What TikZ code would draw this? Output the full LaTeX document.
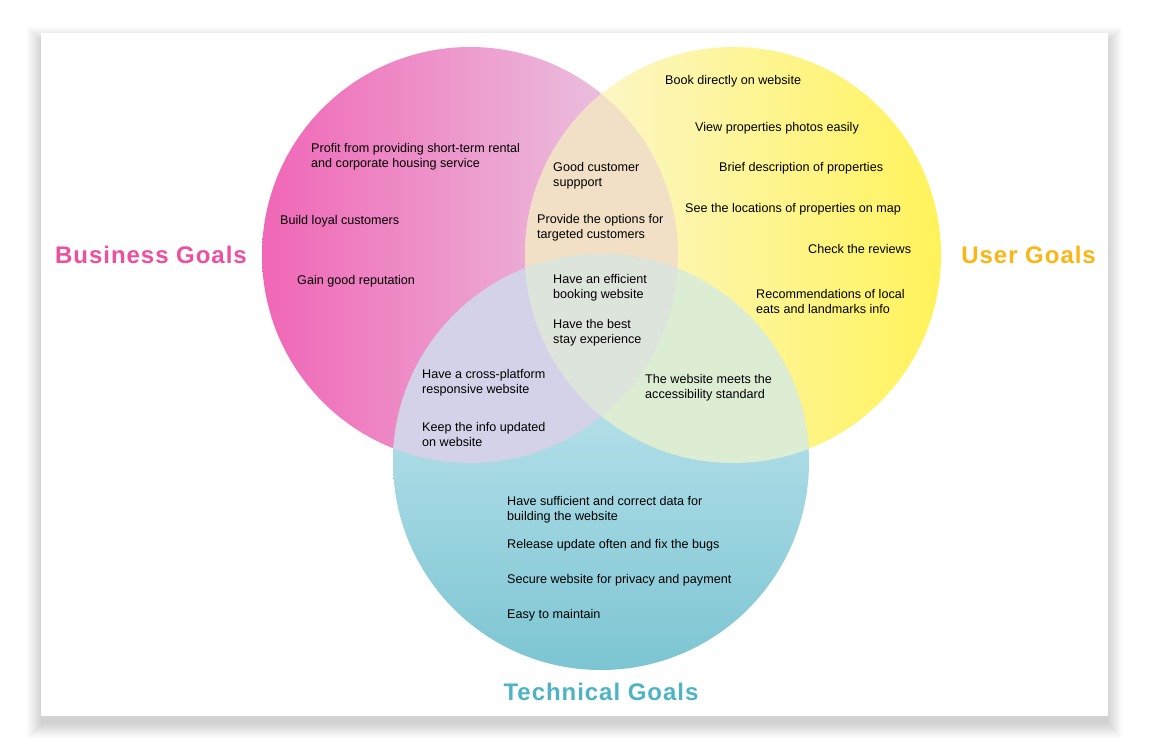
\documentclass[tikz,border=0pt]{standalone}
\usepackage{fontspec}
\setmainfont{Liberation Sans}
\newfontfamily\titlefont[LetterSpace=4]{Liberation Sans}
\usetikzlibrary{positioning}

\definecolor{pinkA}{HTML}{F066B6}
\definecolor{pinkB}{HTML}{EAD2E6}
\definecolor{yellowA}{HTML}{FCF7DC}
\definecolor{yellowB}{HTML}{FFF35A}
\definecolor{cyanA}{HTML}{D3EFF7}
\definecolor{cyanB}{HTML}{7CC5D2}
\definecolor{pinkyellow}{HTML}{F1E0C5}
\definecolor{pinkcyan}{HTML}{D4D2E8}
\definecolor{yellowcyan}{HTML}{DDEDD4}
\definecolor{allthree}{HTML}{DCE4DB}
\definecolor{businessc}{HTML}{EE4F9E}
\definecolor{userc}{HTML}{FDB515}
\definecolor{technicalc}{HTML}{4DB4C5}

\begin{document}
\begin{tikzpicture}[x=1pt,y=-1pt,
  goal/.style={anchor=west,align=left,inner sep=0pt,
    font=\fontsize{12.6}{15}\selectfont},
  title/.style={inner sep=0pt,font=\titlefont\fontsize{24}{28}\selectfont\bfseries}]
\useasboundingbox (0,0) rectangle (1150,750);
% card with its shadow
\foreach \i in {0,...,14}
  \fill[black,opacity=0.013] (41-\i,33-\i+8) rectangle (1108+\i,716+\i+8);
\fill[white] (41,33) rectangle (1108,716);

% the three sets
\shade[left color=pinkA,right color=pinkB] (470,255) circle (208pt);
\shade[left color=yellowA,right color=yellowB] (733,255) circle (208pt);
\shade[top color=cyanA,bottom color=cyanB] (601,462) circle (208pt);

% overlaps
\begin{scope}
\clip (470,255) circle (208pt);
\fill[pinkyellow] (733,255) circle (208pt);
\fill[pinkcyan] (601,462) circle (208pt);
\end{scope}
\begin{scope}
\clip (733,255) circle (208pt);
\fill[yellowcyan] (601,462) circle (208pt);
\clip (470,255) circle (208pt);
\fill[allthree] (601,462) circle (208pt);
\end{scope}

% business goals
\node[goal](b1) at (311,156.5){Profit from providing short-term rental\\and corporate housing service};
\node[goal](b2) at (280,221){Build loyal customers};
\node[goal](b3) at (297,281){Gain good reputation};

% business and user
\node[goal](bu1) at (553,175.5){Good customer\\suppport};
\node[goal](bu2) at (537,227.5){Provide the options for\\targeted customers};

% all three
\node[goal](a1) at (553,287.5){Have an efficient\\booking website};
\node[goal](a2) at (553,332.5){Have the best\\stay experience};

% business and technical
\node[goal](bt1) at (422,383){Have a cross-platform\\responsive website};
\node[goal](bt2) at (422,434){Keep the info updated\\on website};

% user and technical
\node[goal](ut1) at (645,388){The website meets the\\accessibility standard};

% user goals
\node[goal](u1) at (665,81){Book directly on website};
\node[goal](u2) at (695,128){View properties photos easily};
\node[goal](u3) at (719,168){Brief description of properties};
\node[goal](u4) at (685,209){See the locations of properties on map};
\node[goal](u5) at (808,249){Check the reviews};
\node[goal](u6) at (756,301){Recommendations of local\\eats and landmarks info};

% technical goals
\node[goal](t1) at (507,510){Have sufficient and correct data for\\building the website};
\node[goal](t2) at (507,545){Release update often and fix the bugs};
\node[goal](t3) at (507,580){Secure website for privacy and payment};
\node[goal](t4) at (507,615){Easy to maintain};

% titles
\node[title,text=businessc,anchor=west](business) at (55,255){Business Goals};
\node[title,text=userc,anchor=east](user) at (1096,255){User Goals};
\node[title,text=technicalc](technical) at (601,692){Technical Goals};
\end{tikzpicture}
\end{document}
